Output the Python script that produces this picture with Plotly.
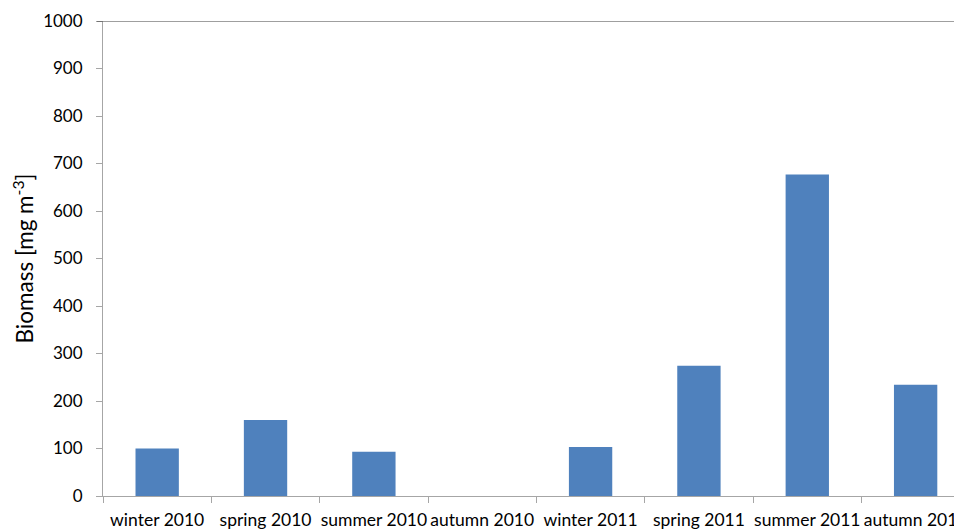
import plotly.graph_objects as go

seasons = ["winter 2010", "spring 2010", "summer 2010", "autumn 2010",
           "winter 2011", "spring 2011", "summer 2011", "autumn 2011"]
biomass = [100, 160, 93, None, 103, 274, 677, 234]

y_ticks = list(range(0, 1001, 100))

fig = go.Figure()

fig.add_trace(
    go.Bar(
        x=seasons,
        y=biomass,
        marker=dict(color="#4F81BD", line=dict(width=0)),
        showlegend=False,
    )
)

axis_grey = "#A6A6A6"
font_name = "Lato, Carlito, 'Open Sans', sans-serif"

# page body has an 8px margin, so the figure is sized to the visible area;
# plot area runs past the right edge in the reference, so clip the last category
fig.update_layout(
    width=954,
    height=521,
    plot_bgcolor="white",
    paper_bgcolor="white",
    bargap=0.6,
    margin=dict(l=95, r=0, t=13, b=33),
    font=dict(family=font_name, size=17, color="black"),
    xaxis=dict(
        range=[-0.5, 7.428],
        automargin=False,
        tickangle=0,
        showline=True,
        linecolor=axis_grey,
        linewidth=1,
        ticks="outside",
        tickson="boundaries",
        ticklen=6,
        tickcolor=axis_grey,
        tickfont=dict(size=17.5),
        ticklabelstandoff=8,
        showgrid=False,
        zeroline=False,
    ),
    yaxis=dict(
        title=dict(text="Biomass [mg m<sup>-3</sup>]", font=dict(size=22.5), standoff=15),
        automargin=False,
        range=[0, 1000],
        tickvals=y_ticks,
        showline=True,
        linecolor=axis_grey,
        linewidth=1,
        ticks="outside",
        ticklen=6,
        tickcolor=axis_grey,
        ticklabelstandoff=10,
        showgrid=False,
        zeroline=False,
    ),
)

# dark top border at 1000
fig.add_shape(
    type="line",
    xref="paper", yref="y",
    x0=-0.007, x1=1, y0=1000, y1=1000,
    line=dict(color="#404040", width=1),
)

fig.write_html("out.html")
